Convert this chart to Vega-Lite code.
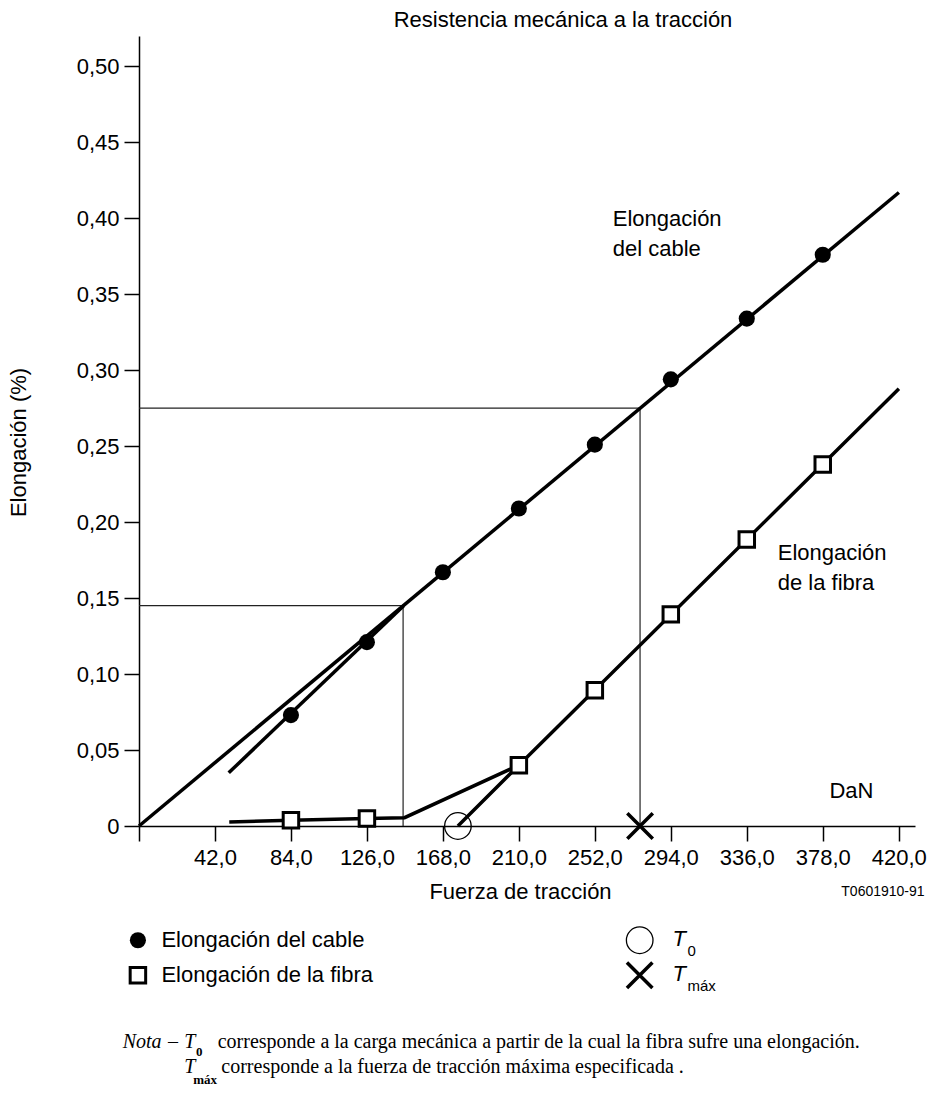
{
  "$schema": "https://vega.github.io/schema/vega-lite/v6.json",
  "width": 776,
  "height": 790,
  "autosize": {"type": "none"},
  "padding": {"left": 139, "top": 36, "right": 21, "bottom": 271},
  "background": "white",
  "title": {"text": "Resistencia mecánica a la tracción", "fontSize": 22, "fontWeight": "normal", "color": "black", "anchor": "middle", "dx": 36, "offset": 4, "font": "Liberation Sans"},
  "config": {
    "font": "Liberation Sans",
    "view": {"stroke": null},
    "axis": {"grid": false, "domainColor": "black", "domainWidth": 1.5, "tickColor": "black", "tickWidth": 1.5, "tickSize": 15, "labelFontSize": 22, "labelColor": "black", "labelFont": "Liberation Sans", "titleFont": "Liberation Sans", "titleFontSize": 22, "titleFontWeight": "normal", "titleColor": "black", "labelOverlap": false, "labelFlush": false}
  },
  "datasets": {
    "refs": [
      {"x": 0, "x2": 146, "y": 0.145, "y2": 0.145},
      {"x": 146, "x2": 146, "y": 0, "y2": 0.145},
      {"x": 0, "x2": 277, "y": 0.275, "y2": 0.275},
      {"x": 277, "x2": 277, "y": 0, "y2": 0.275}
    ],
    "lines": [
      {"serie": "cable", "orden": 1, "fuerza": 0, "elong": 0},
      {"serie": "cable", "orden": 2, "fuerza": 420.1, "elong": 0.417},
      {"serie": "cable_ini", "orden": 1, "fuerza": 49.6, "elong": 0.035},
      {"serie": "cable_ini", "orden": 2, "fuerza": 146.3, "elong": 0.145},
      {"serie": "fibra_ini", "orden": 1, "fuerza": 49.9, "elong": 0.0026},
      {"serie": "fibra_ini", "orden": 2, "fuerza": 84, "elong": 0.0038},
      {"serie": "fibra_ini", "orden": 3, "fuerza": 126, "elong": 0.005},
      {"serie": "fibra_ini", "orden": 4, "fuerza": 146.8, "elong": 0.0055},
      {"serie": "fibra_ini", "orden": 5, "fuerza": 210, "elong": 0.04},
      {"serie": "fibra", "orden": 1, "fuerza": 176.3, "elong": 0},
      {"serie": "fibra", "orden": 2, "fuerza": 210, "elong": 0.04},
      {"serie": "fibra", "orden": 3, "fuerza": 420.1, "elong": 0.2878}
    ],
    "cable": [
      {"fuerza": 84, "elong": 0.073},
      {"fuerza": 126, "elong": 0.121},
      {"fuerza": 168, "elong": 0.167},
      {"fuerza": 210, "elong": 0.209},
      {"fuerza": 252, "elong": 0.251},
      {"fuerza": 294, "elong": 0.294},
      {"fuerza": 336, "elong": 0.334},
      {"fuerza": 378, "elong": 0.376}
    ],
    "fibra": [
      {"fuerza": 84, "elong": 0.0038},
      {"fuerza": 126, "elong": 0.005},
      {"fuerza": 210, "elong": 0.04},
      {"fuerza": 252, "elong": 0.0893},
      {"fuerza": 294, "elong": 0.1393},
      {"fuerza": 336, "elong": 0.1886},
      {"fuerza": 378, "elong": 0.238}
    ],
    "legendCable": [{"fuerza": -0.6, "elong": -0.0752}],
    "legendFibra": [{"fuerza": -0.6, "elong": -0.0983}],
    "t0": [
      {"fuerza": 176.3, "elong": 0},
      {"fuerza": 276.8, "elong": -0.0752}
    ],
    "tmax": [
      {"fuerza": 277, "elong": 0},
      {"fuerza": 276.8, "elong": -0.0983}
    ],
    "labels": [
      {"fuerza": 261.9, "elong": 0.3998, "texto": "Elongación"},
      {"fuerza": 261.9, "elong": 0.38, "texto": "del cable"},
      {"fuerza": 353.1, "elong": 0.1794, "texto": "Elongación"},
      {"fuerza": 353.1, "elong": 0.1597, "texto": "de la fibra"},
      {"fuerza": 381.7, "elong": 0.023, "texto": "DaN"},
      {"fuerza": 12.4, "elong": -0.0752, "texto": "Elongación del cable"},
      {"fuerza": 12.4, "elong": -0.0983, "texto": "Elongación de la fibra"}
    ],
    "tItalic": [
      {"fuerza": 295.0, "elong": -0.0792, "texto": "T"},
      {"fuerza": 295.0, "elong": -0.1022, "texto": "T"}
    ],
    "tSub": [
      {"fuerza": 303.2, "elong": -0.0858, "texto": "0"},
      {"fuerza": 303.2, "elong": -0.1088, "texto": "máx"}
    ],
    "code": [
      {"fuerza": 434.3, "elong": -0.0436, "texto": "T0601910-91"}
    ],
    "notaItalic": [
      {"fuerza": -9.0, "elong": -0.1462, "texto": "Nota"},
      {"fuerza": 25.0, "elong": -0.1462, "texto": "T"},
      {"fuerza": 25.0, "elong": -0.1627, "texto": "T"}
    ],
    "notaNormal": [
      {"fuerza": 16.0, "elong": -0.1462, "texto": "–"},
      {"fuerza": 43.5, "elong": -0.1462, "texto": "corresponde a la carga mecánica a partir de la cual la fibra sufre una elongación."},
      {"fuerza": 45.5, "elong": -0.1627, "texto": "corresponde a la fuerza de tracción máxima especificada   ."}
    ],
    "notaSub": [
      {"fuerza": 31.5, "elong": -0.1515, "texto": "0"},
      {"fuerza": 30.0, "elong": -0.1700, "texto": "máx"}
    ]
  },
  "layer": [
    {
      "data": {"name": "refs"},
      "mark": {"type": "rule", "strokeWidth": 1.2, "color": "#222"},
      "encoding": {
        "x": {"field": "x", "type": "quantitative", "scale": {"domain": [0, 429], "nice": false, "zero": false},
          "axis": {"values": [0, 42, 84, 126, 168, 210, 252, 294, 336, 378, 420], "labelExpr": "datum.value == 0 ? '' : replace(format(datum.value, '.1f'), '.', ',')", "labelPadding": 6, "title": "Fuerza de tracción", "titleX": 381, "titleY": 65, "titleBaseline": "middle", "titleAnchor": null, "titleAlign": "center"}},
        "x2": {"field": "x2"},
        "y": {"field": "y", "type": "quantitative", "scale": {"domain": [0, 0.52], "nice": false, "zero": false},
          "axis": {"values": [0, 0.05, 0.1, 0.15, 0.2, 0.25, 0.3, 0.35, 0.4, 0.45, 0.5], "labelExpr": "datum.value == 0 ? '0' : replace(format(datum.value, '.2f'), '.', ',')", "labelPadding": 5, "title": "Elongación (%)", "titleX": -121, "titleY": 406, "titleAngle": 270, "titleBaseline": "middle", "titleAlign": "center"}},
        "y2": {"field": "y2"}
      }
    },
    {
      "data": {"name": "lines"},
      "mark": {"type": "line", "strokeWidth": 3.5, "color": "black", "strokeCap": "butt", "strokeJoin": "miter"},
      "encoding": {
        "x": {"field": "fuerza", "type": "quantitative"},
        "y": {"field": "elong", "type": "quantitative"},
        "detail": {"field": "serie"},
        "order": {"field": "orden", "type": "quantitative"}
      }
    },
    {
      "data": {"name": "t0"},
      "mark": {"type": "point", "shape": "circle", "size": 707, "filled": false, "stroke": "black", "strokeWidth": 1.3, "opacity": 1},
      "encoding": {"x": {"field": "fuerza", "type": "quantitative"}, "y": {"field": "elong", "type": "quantitative"}}
    },
    {
      "data": {"name": "tmax"},
      "mark": {"type": "point", "shape": "M-1,-1L1,1M-1,1L1,-1", "size": 650, "filled": false, "stroke": "black", "strokeWidth": 3.5, "opacity": 1},
      "encoding": {"x": {"field": "fuerza", "type": "quantitative"}, "y": {"field": "elong", "type": "quantitative"}}
    },
    {
      "data": {"name": "cable"},
      "mark": {"type": "point", "shape": "circle", "size": 260, "filled": true, "color": "black", "opacity": 1},
      "encoding": {"x": {"field": "fuerza", "type": "quantitative"}, "y": {"field": "elong", "type": "quantitative"}}
    },
    {
      "data": {"name": "legendCable"},
      "mark": {"type": "point", "shape": "circle", "size": 260, "filled": true, "color": "black", "opacity": 1},
      "encoding": {"x": {"field": "fuerza", "type": "quantitative"}, "y": {"field": "elong", "type": "quantitative"}}
    },
    {
      "data": {"name": "fibra"},
      "mark": {"type": "point", "shape": "square", "size": 240, "filled": true, "fill": "white", "stroke": "black", "strokeWidth": 3, "opacity": 1},
      "encoding": {"x": {"field": "fuerza", "type": "quantitative"}, "y": {"field": "elong", "type": "quantitative"}}
    },
    {
      "data": {"name": "legendFibra"},
      "mark": {"type": "point", "shape": "square", "size": 240, "filled": true, "fill": "white", "stroke": "black", "strokeWidth": 3, "opacity": 1},
      "encoding": {"x": {"field": "fuerza", "type": "quantitative"}, "y": {"field": "elong", "type": "quantitative"}}
    },
    {
      "data": {"name": "labels"},
      "mark": {"type": "text", "fontSize": 22, "align": "left", "baseline": "middle", "color": "black", "font": "Liberation Sans"},
      "encoding": {"x": {"field": "fuerza", "type": "quantitative"}, "y": {"field": "elong", "type": "quantitative"}, "text": {"field": "texto"}}
    },
    {
      "data": {"name": "tItalic"},
      "mark": {"type": "text", "fontSize": 22, "fontStyle": "italic", "align": "left", "baseline": "alphabetic", "color": "black", "font": "Liberation Sans"},
      "encoding": {"x": {"field": "fuerza", "type": "quantitative"}, "y": {"field": "elong", "type": "quantitative"}, "text": {"field": "texto"}}
    },
    {
      "data": {"name": "tSub"},
      "mark": {"type": "text", "fontSize": 15, "align": "left", "baseline": "alphabetic", "color": "black", "font": "Liberation Sans"},
      "encoding": {"x": {"field": "fuerza", "type": "quantitative"}, "y": {"field": "elong", "type": "quantitative"}, "text": {"field": "texto"}}
    },
    {
      "data": {"name": "code"},
      "mark": {"type": "text", "fontSize": 14, "align": "right", "baseline": "middle", "color": "black", "font": "Liberation Sans"},
      "encoding": {"x": {"field": "fuerza", "type": "quantitative"}, "y": {"field": "elong", "type": "quantitative"}, "text": {"field": "texto"}}
    },
    {
      "data": {"name": "notaItalic"},
      "mark": {"type": "text", "fontSize": 20, "fontStyle": "italic", "align": "left", "baseline": "alphabetic", "color": "black", "font": "Liberation Serif"},
      "encoding": {"x": {"field": "fuerza", "type": "quantitative"}, "y": {"field": "elong", "type": "quantitative"}, "text": {"field": "texto"}}
    },
    {
      "data": {"name": "notaNormal"},
      "mark": {"type": "text", "fontSize": 20, "align": "left", "baseline": "alphabetic", "color": "black", "font": "Liberation Serif"},
      "encoding": {"x": {"field": "fuerza", "type": "quantitative"}, "y": {"field": "elong", "type": "quantitative"}, "text": {"field": "texto"}}
    },
    {
      "data": {"name": "notaSub"},
      "mark": {"type": "text", "fontSize": 13, "fontWeight": "bold", "align": "left", "baseline": "alphabetic", "color": "black", "font": "Liberation Serif"},
      "encoding": {"x": {"field": "fuerza", "type": "quantitative"}, "y": {"field": "elong", "type": "quantitative"}, "text": {"field": "texto"}}
    }
  ]
}
